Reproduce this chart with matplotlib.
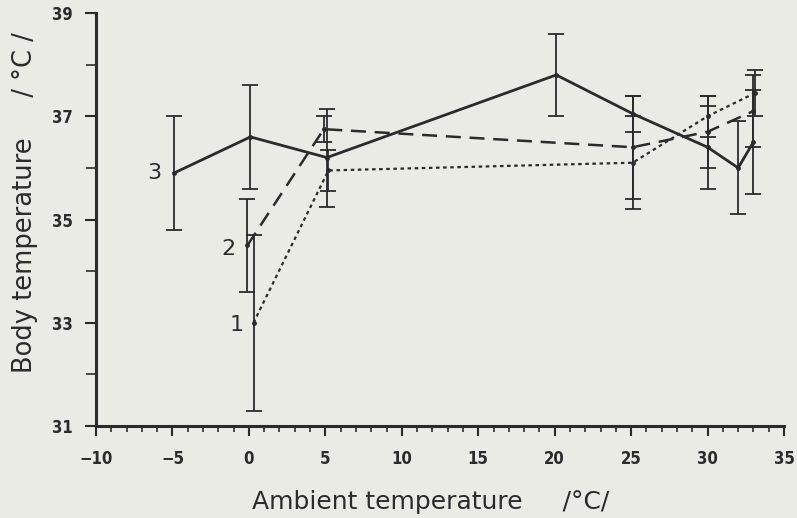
"""
Body temperature vs ambient temperature, three groups (1, 2, 3)
"""

### Import modules
import numpy as np
import matplotlib
matplotlib.use('Agg')
import matplotlib.pyplot as plt
from matplotlib.ticker import MultipleLocator

### Data
# group 3 (solid)
x3 = [-4.9, 0.1, 5.1, 20.1, 25.1, 30.0, 32.0, 33.0]
y3 = [35.9, 36.6, 36.2, 37.8, 37.05, 36.4, 36.0, 36.5]
e3 = [1.1, 1.0, 0.95, 0.8, 0.35, 0.8, 0.9, 1.0]

# group 2 (dashed)
x2 = [-0.1, 4.9, 25.1, 30.0, 33.0]
y2 = [34.5, 36.75, 36.4, 36.7, 37.1]
e2 = [0.9, 0.25, 1.0, 0.7, 0.7]

# group 1 (dotted)
x1 = [0.3, 5.2, 25.1, 30.0, 33.1]
y1 = [33.0, 35.95, 36.1, 37.0, 37.45]
e1 = [1.7, 0.4, 0.9, 0.4, 0.45]

xticks = np.arange(-10, 36, 5)
yticks = np.arange(31, 40, 2)

### Style
bg = '#ebebe6'
ink = '#2b2b2b'
matplotlib.rc('axes', edgecolor=ink, labelcolor=ink, facecolor=bg)
matplotlib.rc('xtick', color=ink)
matplotlib.rc('ytick', color=ink)

fig = plt.figure(figsize=(7.97, 5.18), dpi=100, facecolor=bg)
ax = fig.add_axes([0.1205, 0.1776, 0.8632, 0.7973])

ax.errorbar(x3, y3, yerr=e3, color=ink, linewidth=2.0, elinewidth=1.3,
            capsize=5.5, capthick=1.3, marker='o', markersize=2.5, zorder=4)
ax.errorbar(x2, y2, yerr=e2, color=ink, linewidth=1.8, elinewidth=1.3,
            capsize=5.5, capthick=1.3, marker='o', markersize=2.5,
            dashes=(6, 3.5), zorder=3)
ax.errorbar(x1, y1, yerr=e1, color=ink, linewidth=1.6, elinewidth=1.3,
            capsize=5.5, capthick=1.3, marker='o', markersize=2.5,
            dashes=(1.6, 1.6), zorder=3)

### Group labels
ax.text(-5.7, y3[0], '3', fontsize=16, color=ink, ha='right', va='center')
ax.text(-0.9, y2[0] - 0.08, '2', fontsize=16, color=ink, ha='right', va='center')
ax.text(-0.35, y1[0] - 0.05, '1', fontsize=16, color=ink, ha='right', va='center')

### Axes
ax.spines['top'].set_visible(False)
ax.spines['right'].set_visible(False)
ax.spines['left'].set_linewidth(2.2)
ax.spines['bottom'].set_linewidth(2.2)

ax.set_xlim(-10, 35)
ax.set_ylim(31, 39)
ax.set_xticks(xticks)
ax.set_yticks(yticks)
ax.xaxis.set_minor_locator(MultipleLocator(1))
ax.yaxis.set_minor_locator(MultipleLocator(1))
ax.tick_params(axis='x', which='major', direction='out', length=7, width=1.5,
               labelsize=12, pad=10)
ax.tick_params(axis='x', which='minor', direction='out', length=4, width=1.2)
ax.tick_params(axis='y', which='major', direction='out', length=8, width=1.5,
               labelsize=12, pad=9)
ax.tick_params(axis='y', which='minor', direction='out', length=7, width=1.2)
for lab in ax.get_xticklabels() + ax.get_yticklabels():
    lab.set_fontweight('bold')
    lab.set_fontstretch('condensed')

### Axis titles
fig.text(431/797, 1 - 502/518, 'Ambient temperature     /°C/', fontsize=18,
         color=ink, ha='center', va='center')
fig.text(25/797, 1 - 203/518, 'Body temperature     / °C /', fontsize=18.5,
         color=ink, ha='center', va='center', rotation=90)

plt.savefig('out.png', dpi=100, facecolor=bg)
